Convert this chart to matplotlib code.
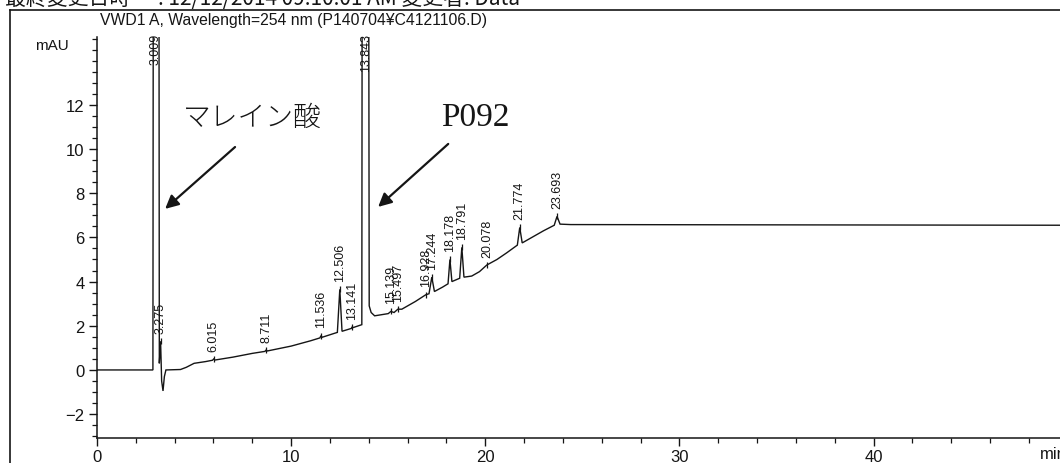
import matplotlib
matplotlib.use('Agg')
import matplotlib.pyplot as plt
from matplotlib.ticker import MultipleLocator, FixedLocator
from matplotlib.lines import Line2D

# ---------------- data ----------------
times = [0.0, 2.88, 2.92, 3.17, 3.21, 3.275, 3.33, 3.40, 3.47, 3.55, 4.3, 4.6, 5.0,
         5.6, 5.95, 6.015, 6.08, 7.0, 8.0, 8.65, 8.711, 8.78, 10.0, 11.0, 11.48,
         11.536, 11.6, 12.2, 12.38, 12.506, 12.62, 13.1, 13.141, 13.2, 13.64, 13.68,
         13.96, 14.02, 14.12, 14.3, 15.0, 15.139, 15.3, 15.497, 15.7, 16.4, 16.928,
         17.1, 17.244, 17.38, 17.8, 18.08, 18.178, 18.28, 18.68, 18.791, 18.9, 19.3,
         19.7, 20.078, 20.6, 21.1, 21.65, 21.774, 21.9, 22.4, 23.0, 23.55, 23.693,
         23.85, 24.4, 49.6]
signal = [0.0, 0.0, 40.0, 40.0, 0.3, 1.3, -0.5, -0.95, -0.3, 0.0, 0.02, 0.12, 0.3,
          0.38, 0.44, 0.5, 0.45, 0.58, 0.75, 0.84, 0.9, 0.86, 1.08, 1.32, 1.45,
          1.55, 1.48, 1.65, 1.7, 3.65, 1.75, 1.88, 1.95, 1.92, 2.05, 40.0,
          40.0, 2.9, 2.6, 2.45, 2.55, 2.65, 2.6, 2.75, 2.75, 3.1, 3.4,
          3.45, 4.2, 3.55, 3.75, 3.9, 5.0, 4.0, 4.15, 5.55, 4.2, 4.25,
          4.45, 4.75, 5.0, 5.3, 5.65, 6.45, 5.75, 6.0, 6.3, 6.55, 6.95,
          6.6, 6.58, 6.55]

peak_times = [3.009, 3.275, 6.015, 8.711, 11.536, 12.506, 13.141, 13.843, 15.139,
              15.497, 16.928, 17.244, 18.178, 18.791, 20.078, 21.774, 23.693]
peak_heights = [None, 1.3, 0.5, 0.9, 1.55, 3.65, 1.95, None, 2.65,
                2.75, 3.4, 4.2, 5.0, 5.55, 4.75, 6.45, 6.95]
peak_labels = ["3.009", "3.275", "6.015", "8.711", "11.536", "12.506", "13.141",
               "13.843", "15.139", "15.497", "16.928", "17.244", "18.178", "18.791",
               "20.078", "21.774", "23.693"]

y_ticks = [-2, 0, 2, 4, 6, 8, 10, 12]
x_ticks = [0, 10, 20, 30, 40]

title = "VWD1 A, Wavelength=254 nm (P140704¥C4121106.D)"
header = "最終変更日時      : 12/12/2014 09:10:01 AM 変更者: Data"
note_left = "マレイン酸"
note_right = "P092"

# ---------------- figure ----------------
W, H = 1060, 464
fig = plt.figure(figsize=(W / 100, H / 100), dpi=100)
fig.patch.set_facecolor('white')

def fx(px):
    return px / W

def fy(py):
    return 1 - py / H

ink = '#151515'
ax = fig.add_axes([fx(97), fy(439), 1 - fx(97), fy(38) - fy(439)])
ax.plot(times, signal, color=ink, lw=1.0, solid_joinstyle='miter')
ax.set_xlim(0, 49.6)
ax.set_ylim(-3.08, 15.07)

for s in ('top', 'right'):
    ax.spines[s].set_visible(False)
for s in ('left', 'bottom'):
    ax.spines[s].set_linewidth(1.1)
    ax.spines[s].set_color(ink)

ax.xaxis.set_major_locator(FixedLocator(x_ticks))
ax.xaxis.set_minor_locator(MultipleLocator(2))
ax.yaxis.set_major_locator(FixedLocator(y_ticks))
ax.yaxis.set_minor_locator(MultipleLocator(0.5))
ax.tick_params(which='major', direction='out', length=6, width=1.0, colors=ink,
               labelsize=12, pad=3)
ax.tick_params(which='minor', direction='out', length=3.5, width=0.9, colors=ink)
ax.tick_params(axis='x', pad=2)
for lab in ax.get_xticklabels() + ax.get_yticklabels():
    lab.set_family('Liberation Sans')

# peak markers & labels
for t, h, lab in zip(peak_times, peak_heights, peak_labels):
    if h is None:
        ax.annotate(lab, xy=(t, 1.0), xycoords=('data', 'axes fraction'),
                    xytext=(0, 3), textcoords='offset points', rotation=90,
                    ha='center', va='top', fontsize=9, family='Liberation Sans',
                    color=ink)
    else:
        ax.plot([t], [h], marker='|', ms=5, mew=0.9, color=ink)
        ax.annotate(lab, xy=(t, h), xytext=(0, 6), textcoords='offset points',
                    rotation=90, ha='center', va='bottom', fontsize=9,
                    family='Liberation Sans', color=ink)

# hand-written notes and arrows
ax.text(7.99, 11.45, note_left, ha='center', va='center', fontsize=20,
        family=['Noto Sans CJK JP'], fontweight='light', color=ink)
ax.text(19.48, 11.45, note_right, ha='center', va='center', fontsize=24,
        family='Liberation Serif', color=ink)
arrow = dict(arrowstyle='-|>', mutation_scale=20, lw=1.6, color=ink,
             shrinkA=0, shrinkB=0)
ax.annotate('', xy=(3.51, 7.29), xytext=(7.11, 10.09), arrowprops=arrow)
ax.annotate('', xy=(14.48, 7.38), xytext=(18.09, 10.23), arrowprops=arrow)

# axis unit labels
fig.text(fx(52), fy(46), "mAU", ha='center', va='center', fontsize=11,
         family='Liberation Sans', color=ink)
fig.text(fx(1040), fy(455), "min", ha='left', va='center', fontsize=12,
         family='Liberation Sans', color=ink)

# title & header
fig.text(fx(100), fy(20), title, ha='left', va='center', fontsize=11.3,
         family='Liberation Sans', color=ink)
fig.text(fx(5), fy(-1), header, ha='left', va='center', fontsize=15,
         family=['Noto Sans CJK JP', 'DejaVu Sans'], color=ink)

# frame
fig.add_artist(Line2D([fx(10), fx(10)], [0, fy(11)], color=ink, lw=1.2))
fig.add_artist(Line2D([fx(10), 1], [fy(11), fy(11)], color=ink, lw=1.2))

fig.savefig('out.png', dpi=100, facecolor='white')
